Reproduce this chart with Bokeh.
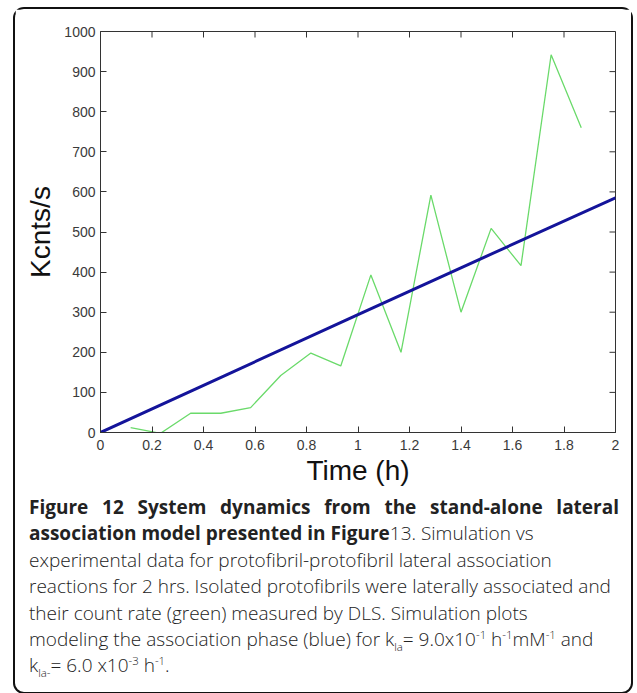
from bokeh.plotting import figure
from bokeh.models import Range1d, Div, FixedTicker
from bokeh.layouts import column
from bokeh.embed import file_html
from bokeh.resources import INLINE

# ---- data ----
exp_time = [0.117, 0.233, 0.35, 0.467, 0.583, 0.7, 0.817, 0.933, 1.05, 1.167,
            1.283, 1.4, 1.517, 1.633, 1.75, 1.867]
exp_counts = [12, -2, 48, 48, 62, 142, 198, 166, 393, 200,
              592, 300, 509, 416, 942, 760]
sim_time = [0, 0.5, 1.0, 1.5, 2.0]
sim_counts = [0, 147, 294, 440, 585]

x_ticks = [0, 0.2, 0.4, 0.6, 0.8, 1, 1.2, 1.4, 1.6, 1.8, 2]
x_tick_labels = ["0", "0.2", "0.4", "0.6", "0.8", "1", "1.2", "1.4", "1.6", "1.8", "2"]
y_ticks = [0, 100, 200, 300, 400, 500, 600, 700, 800, 900, 1000]
y_tick_labels = ["0", "100", "200", "300", "400", "500", "600", "700", "800", "900", "1000"]

x_label = "Time (h)"
y_label = "Kcnts/s"

AX_COLOR = "#333333"
TICK_FONT = "Liberation Sans"

x_lo, x_hi = x_ticks[0], x_ticks[-1]
y_lo, y_hi = y_ticks[0], y_ticks[-1]

p = figure(width=616, height=483, output_backend="svg", toolbar_location=None,
           x_range=Range1d(x_lo, x_hi), y_range=Range1d(y_lo, y_hi),
           min_border_left=85, min_border_right=16, min_border_top=22, min_border_bottom=60)
p.background_fill_color = "white"
p.border_fill_color = "white"
p.outline_line_color = AX_COLOR
p.outline_line_width = 1
p.grid.visible = False

p.xaxis.ticker = FixedTicker(ticks=x_ticks)
p.yaxis.ticker = FixedTicker(ticks=y_ticks)
p.xaxis.major_label_overrides = {t: l for t, l in zip(x_ticks, x_tick_labels)}
p.yaxis.major_label_overrides = {t: l for t, l in zip(y_ticks, y_tick_labels)}

for ax in (p.xaxis[0], p.yaxis[0]):
    ax.major_tick_in = 6
    ax.major_tick_out = 0
    ax.minor_tick_line_color = None
    ax.axis_line_color = AX_COLOR
    ax.major_tick_line_color = AX_COLOR
    ax.major_label_text_font = TICK_FONT
    ax.major_label_text_font_size = "14px"
    ax.major_label_text_color = "#3a3a3a"
    ax.axis_label_text_font = TICK_FONT
    ax.axis_label_text_font_size = "28px"
    ax.axis_label_text_font_style = "normal"
    ax.axis_label_text_color = "#111111"

p.xaxis.axis_label = x_label
p.yaxis.axis_label = y_label
p.xaxis.major_label_standoff = 7
p.yaxis.major_label_standoff = 5
p.xaxis.axis_label_standoff = 2
p.yaxis.axis_label_standoff = 5

# mirrored inward ticks on the top and right edges of the frame
p.ray(x=x_ticks, y=[y_hi] * len(x_ticks), length=6, length_units="screen",
      angle=-90, angle_units="deg", line_color=AX_COLOR, line_width=1)
p.ray(x=[x_hi] * len(y_ticks), y=y_ticks, length=6, length_units="screen",
      angle=180, angle_units="deg", line_color=AX_COLOR, line_width=1)

p.line(exp_time, exp_counts, line_color="#6ada6a", line_width=1.3)
p.line(sim_time, sim_counts, line_color="#14149a", line_width=3)

SUB = 'style="font-size:60%;line-height:0;"'
LINE = 'style="font-weight:300; white-space:nowrap;"'
caption_html = (
    '<div style="width:590px; font-family:\'Open Sans\'; font-size:19px; line-height:26.4px; color:#222;">'
    '<div style="text-align:justify; text-align-last:justify; font-weight:700; white-space:nowrap;">'
    'Figure 12 System dynamics from the stand-alone lateral</div>'
    '<div ' + LINE + '><b style="font-weight:700;">association model presented in Figure</b>13. Simulation vs</div>'
    '<div ' + LINE + '>experimental data for protofibril-protofibril lateral association</div>'
    '<div ' + LINE + '>reactions for 2 hrs. Isolated protofibrils were laterally associated and</div>'
    '<div ' + LINE + '>their count rate (green) measured by DLS. Simulation plots</div>'
    '<div ' + LINE + '>modeling the association phase (blue) for k<sub ' + SUB + '>la</sub>= 9.0x10<sup ' + SUB + '>-1</sup> '
    'h<sup ' + SUB + '>-1</sup>mM<sup ' + SUB + '>-1</sup> and</div>'
    '<div ' + LINE + '>k<sub ' + SUB + '>la-</sub>= 6.0 x10<sup ' + SUB + '>-3</sup> '
    'h<sup ' + SUB + '>-1</sup>.</div>'
    '</div>'
)
cap = Div(text=caption_html, width=590, height=193,
          styles={"margin-left": "14px", "margin-top": "2px"})

layout = column(p, cap, styles={"border": "2px solid #111", "border-radius": "11px",
                                "margin-left": "13px", "margin-top": "7px",
                                "background": "white"})

open("out.html", "w").write(file_html(layout, INLINE))
